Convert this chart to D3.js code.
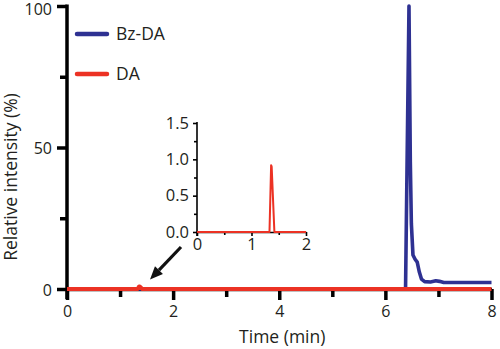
<!DOCTYPE html>
<html>
<head>
<meta charset="utf-8">
<script src="https://cdn.jsdelivr.net/npm/d3@7"></script>
<style>
  html, body { margin: 0; padding: 0; background: #fff; }
  svg { display: block; font-family: "Open Sans", "Noto Sans", sans-serif; }
</style>
</head>
<body>
<svg id="chart" width="500" height="349"></svg>
<script>
// ---- data ----
const bzTime  = [0, 6.38, 6.445, 6.47, 6.49, 6.52, 6.56, 6.60, 6.64, 6.68, 6.74, 6.85, 6.95, 7.02, 7.10, 8.0];
const bzValue = [0, 0,    100,   45,   23,   12,   10.5, 9.5,  6,    3.5,  2.6,  2.5,  2.9,  2.7,  2.3,  2.3];
const daTime  = [0, 1.33, 1.36, 1.37, 1.42, 8.0];
const daValue = [0, 0,    0.92, 0.90, 0,    0];
const seriesNames = ["Bz-DA", "DA"];
const xTicksMain = [0, 2, 4, 6, 8];
const xMinorMain = [1, 3, 5, 7];
const yTicksMain = [0, 50, 100];
const yMinorMain = [25, 75];
const xTicksInset = [0, 1, 2];
const xMinorInset = [0.5, 1.5];
const yTicksInset = [0, 0.5, 1.0, 1.5];
const yMinorInset = [0.25, 0.75, 1.25];

const blue = "#2e3192";
const red = "#ec3224";
const textColor = "#231f20";

const svg = d3.select("#chart");

// ---- main scales ----
const x = d3.scaleLinear().domain([0, 8]).range([67, 491.5]);
const y = d3.scaleLinear().domain([0, 100]).range([289, 6]);

const bz = bzTime.map((t, i) => [t, bzValue[i]]);
const da = daTime.map((t, i) => [t, daValue[i]]);

function styleAxis(g, w) {
  g.selectAll("path.domain").attr("stroke", "#000").attr("stroke-width", w);
  g.selectAll(".tick line").attr("stroke", "#000").attr("stroke-width", w);
  g.selectAll(".tick text").attr("fill", textColor).style("font-family", '"Open Sans", sans-serif');
}

const yAxisG = svg.append("g").attr("transform", "translate(67,0)")
  .call(d3.axisLeft(y).tickValues(yTicksMain).tickSize(10).tickSizeOuter(0).tickPadding(5).tickFormat(d3.format("d")));
yAxisG.selectAll(".tick text").style("font-size", "16px")
  .attr("dy", d => d === 100 ? "0.52em" : "0.38em");
styleAxis(yAxisG, 3.5);
yAxisG.select("path.domain").attr("d", `M0,${y(100) - 1.5}V${y(0) + 10}`);

const yMinorG = svg.append("g").attr("transform", "translate(67,0)")
  .call(d3.axisLeft(y).tickValues(yMinorMain).tickSize(7).tickFormat(""));
yMinorG.select("path.domain").remove();
styleAxis(yMinorG, 3.5);

const xAxisG = svg.append("g").attr("transform", "translate(0,289)")
  .call(d3.axisBottom(x).tickValues(xTicksMain).tickSize(11).tickSizeOuter(0).tickPadding(6).tickFormat(d3.format("d")));
xAxisG.selectAll(".tick text").style("font-size", "16px");
styleAxis(xAxisG, 3.5);

const xMinorG = svg.append("g").attr("transform", "translate(0,289)")
  .call(d3.axisBottom(x).tickValues(xMinorMain).tickSize(8).tickFormat(""));
xMinorG.select("path.domain").remove();
styleAxis(xMinorG, 3.5);

// lines (main)
const line = d3.line().x(d => x(d[0])).y(d => y(d[1]));
svg.append("defs").append("clipPath").attr("id", "mainClip")
  .append("rect").attr("x", 60).attr("y", y(100) - 2).attr("width", 440).attr("height", 300);

svg.append("path").datum(bz).attr("d", line)
  .attr("fill", "none").attr("stroke", blue).attr("stroke-width", 3.6)
  .attr("stroke-linejoin", "round").attr("clip-path", "url(#mainClip)");
svg.append("path").datum(da).attr("d", line)
  .attr("fill", "none").attr("stroke", red).attr("stroke-width", 4)
  .attr("stroke-linejoin", "round");

// axis labels
svg.append("text").attr("x", x(4) + 3).attr("y", 343).attr("text-anchor", "middle")
  .style("font-size", "17.5px").attr("fill", textColor).text("Time (min)");
svg.append("text").attr("transform", `translate(16.5,${177}) rotate(-90)`).attr("text-anchor", "middle")
  .style("font-size", "17.5px").attr("fill", textColor).text("Relative intensity (%)");

// legend
const legend = svg.append("g");
[blue, red].forEach((c, i) => {
  const ly = 34 + i * 40;
  legend.append("line").attr("x1", 77).attr("x2", 107).attr("y1", ly).attr("y2", ly)
    .attr("stroke", c).attr("stroke-width", 4.5).attr("stroke-linecap", "round");
  legend.append("text").attr("x", 116).attr("y", ly + 6).style("font-size", "17.5px")
    .attr("fill", textColor).text(seriesNames[i]);
});

// ---- inset ----
const xi = d3.scaleLinear().domain([0, 2]).range([197, 306]);
const yi = d3.scaleLinear().domain([0, 1.5]).range([232, 123]);

const yiG = svg.append("g").attr("transform", "translate(197,0)")
  .call(d3.axisLeft(yi).tickValues(yTicksInset).tickSize(4).tickSizeOuter(0).tickPadding(4).tickFormat(d3.format(".1f")));
yiG.selectAll(".tick text").style("font-size", "16.5px");
styleAxis(yiG, 1.6);
yiG.select("path.domain").attr("d", `M0,${yi(1.5) - 1}V${yi(0) + 4}`);
const yiMinor = svg.append("g").attr("transform", "translate(197,0)")
  .call(d3.axisLeft(yi).tickValues(yMinorInset).tickSize(3).tickFormat(""));
yiMinor.select("path.domain").remove();
styleAxis(yiMinor, 1.6);

const xiG = svg.append("g").attr("transform", "translate(0,232)")
  .call(d3.axisBottom(xi).tickValues(xTicksInset).tickSize(4).tickSizeOuter(0).tickPadding(2).tickFormat(d3.format("d")));
xiG.selectAll(".tick text").style("font-size", "16.5px");
styleAxis(xiG, 1.6);
const xiMinor = svg.append("g").attr("transform", "translate(0,232)")
  .call(d3.axisBottom(xi).tickValues(xMinorInset).tickSize(3).tickFormat(""));
xiMinor.select("path.domain").remove();
styleAxis(xiMinor, 1.6);

svg.select("defs").append("clipPath").attr("id", "insetClip")
  .append("rect").attr("x", 197).attr("y", 110).attr("width", 109).attr("height", 130);
const lineI = d3.line().x(d => xi(d[0])).y(d => yi(d[1]));
svg.append("path").datum(da).attr("d", lineI)
  .attr("fill", "none").attr("stroke", red).attr("stroke-width", 2)
  .attr("stroke-linejoin", "round").attr("clip-path", "url(#insetClip)");

// arrow annotation
const ax1 = 181, ay1 = 247, ax2 = 150, ay2 = 279.5;
const ang = Math.atan2(ay2 - ay1, ax2 - ax1);
const hl = 13, hw = 5.5;
const bx = ax2 - hl * Math.cos(ang), by = ay2 - hl * Math.sin(ang);
svg.append("line").attr("x1", ax1).attr("y1", ay1).attr("x2", bx).attr("y2", by)
  .attr("stroke", "#111").attr("stroke-width", 3.2);
svg.append("polygon")
  .attr("points", [
    [ax2, ay2],
    [bx + hw * Math.sin(ang), by - hw * Math.cos(ang)],
    [bx - hw * Math.sin(ang), by + hw * Math.cos(ang)]
  ].map(p => p.join(",")).join(" "))
  .attr("fill", "#111");
</script>
</body>
</html>
